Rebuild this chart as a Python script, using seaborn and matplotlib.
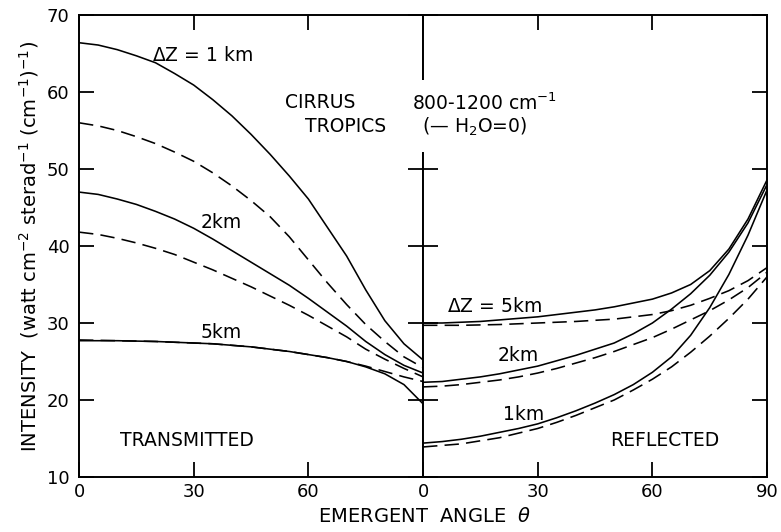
import matplotlib
matplotlib.use("Agg")
import matplotlib.pyplot as plt
from matplotlib.patches import Rectangle
import seaborn as sns

# emergent angle (deg) at which values were read
theta = [0, 5, 10, 15, 20, 25, 30, 35, 40, 45, 50, 55, 60, 65, 70, 75, 80, 85, 90]

# transmitted intensity, left panel (solid: H2O=0, dashed: with water vapour)
trans_1km = [66.4, 66.1, 65.5, 64.7, 63.8, 62.4, 60.9, 59.0, 56.9, 54.5, 51.9, 49.1, 46.1,
             42.4, 38.7, 34.3, 30.3, 27.3, 25.2]
trans_1km_dry = [56.0, 55.6, 55.0, 54.2, 53.3, 52.2, 51.0, 49.5, 47.8, 45.9, 43.8, 41.2, 38.2,
                 35.2, 32.4, 29.8, 27.6, 25.6, 24.2]
trans_2km = [47.0, 46.7, 46.1, 45.4, 44.5, 43.5, 42.3, 40.9, 39.4, 37.9, 36.4, 34.9, 33.2,
             31.4, 29.6, 27.6, 25.9, 24.5, 23.5]
trans_2km_dry = [41.8, 41.5, 41.0, 40.4, 39.7, 38.9, 37.9, 36.9, 35.8, 34.7, 33.5, 32.3, 31.0,
                 29.6, 28.2, 26.6, 25.3, 24.1, 23.0]
trans_5km = [27.7, 27.7, 27.7, 27.65, 27.6, 27.5, 27.4, 27.3, 27.1, 26.9, 26.6, 26.3, 25.9,
             25.5, 25.0, 24.3, 23.4, 22.0, 19.5]
trans_5km_dry = [27.8, 27.75, 27.7, 27.65, 27.6, 27.5, 27.4, 27.3, 27.1, 26.9, 26.6, 26.3, 25.9,
                 25.5, 25.0, 24.4, 23.7, 23.0, 22.4]

# reflected intensity, right panel
refl_1km = [14.4, 14.6, 14.9, 15.3, 15.8, 16.3, 16.9, 17.7, 18.6, 19.6, 20.7, 22.0, 23.6,
            25.6, 28.4, 32.0, 36.3, 41.4, 47.3]
refl_1km_dry = [13.9, 14.1, 14.3, 14.7, 15.1, 15.7, 16.3, 17.1, 18.0, 19.0, 20.0, 21.3, 22.7,
                24.3, 26.2, 28.3, 30.6, 33.1, 36.0]
refl_2km = [22.3, 22.4, 22.7, 23.0, 23.4, 23.9, 24.4, 25.1, 25.8, 26.6, 27.4, 28.6, 30.0,
            31.8, 33.8, 36.2, 39.2, 43.0, 48.0]
refl_2km_dry = [21.7, 21.8, 22.0, 22.3, 22.6, 23.0, 23.5, 24.1, 24.8, 25.5, 26.3, 27.2, 28.1,
                29.2, 30.4, 31.6, 33.0, 34.6, 36.6]
refl_5km = [30.0, 30.0, 30.1, 30.2, 30.4, 30.6, 30.8, 31.1, 31.4, 31.7, 32.1, 32.6, 33.1,
            33.9, 35.0, 36.8, 39.6, 43.5, 48.6]
refl_5km_dry = [29.7, 29.7, 29.7, 29.75, 29.8, 29.9, 30.0, 30.1, 30.2, 30.35, 30.5, 30.8, 31.1,
                31.6, 32.3, 33.2, 34.2, 35.5, 37.2]

sns.set_theme(style="white")
plt.rcParams["font.family"] = ["DejaVu Sans"]
plt.rcParams["mathtext.fontset"] = "dejavusans"
plt.rcParams["text.color"] = "black"
plt.rcParams["axes.labelcolor"] = "black"

fig = plt.figure(figsize=(7.81, 5.32), dpi=100)
ax1 = fig.add_axes([0.1012, 0.1034, 0.4405, 0.8684])
ax2 = fig.add_axes([0.5417, 0.1034, 0.4405, 0.8684], sharey=ax1)

solid = "-"
dash = (0, (9, 4.5))
lw = 1.15

for vals, ls in [(trans_1km, solid), (trans_1km_dry, dash), (trans_2km, solid),
                 (trans_2km_dry, dash), (trans_5km, solid), (trans_5km_dry, dash)]:
    sns.lineplot(x=theta, y=vals, ax=ax1, color="black", linewidth=lw, linestyle=ls)

for vals, ls in [(refl_1km, solid), (refl_1km_dry, dash), (refl_2km, solid),
                 (refl_2km_dry, dash), (refl_5km, solid), (refl_5km_dry, dash)]:
    sns.lineplot(x=theta, y=vals, ax=ax2, color="black", linewidth=lw, linestyle=ls)

for ax in (ax1, ax2):
    ax.set_xlim(0, 90)
    ax.set_ylim(10, 70)
    for sp in ax.spines.values():
        sp.set_linewidth(1.4)
        sp.set_color("black")
    ax.tick_params(axis="both", direction="in", length=11, width=1.3,
                   colors="black", labelsize=13, top=True, bottom=True,
                   left=True, right=True)
    ax.tick_params(axis="x", pad=4)
    ax.tick_params(axis="y", pad=7)
    ax.set_xlabel("")
    ax.set_ylabel("")

ax1.set_xticks([0, 30, 60])
ax2.set_xticks([0, 30, 60, 90])
ax1.set_yticks([10, 20, 30, 40, 50, 60, 70])
ax2.tick_params(axis="y", labelleft=False)

ax1.set_ylabel("INTENSITY  (watt cm$^{-2}$ sterad$^{-1}$ (cm$^{-1}$)$^{-1}$)",
               fontsize=14, labelpad=4)
fig.text(425 / 781, 1 - 517 / 532, "EMERGENT  ANGLE  $\\theta$",
         ha="center", va="center", fontsize=14)

ts = 13.5
ax1.text(19.1, 64.8, "$\\Delta$Z = 1 km", fontsize=ts, va="center")
ax1.text(31.7, 43.0, "2km", fontsize=ts, va="center")
ax1.text(31.7, 28.8, "5km", fontsize=ts, va="center")
ax1.text(10.7, 14.7, "TRANSMITTED", fontsize=ts, va="center")
ax1.text(53.9, 58.6, "CIRRUS", fontsize=ts, va="center")
ax1.text(59.1, 55.5, "TROPICS", fontsize=ts, va="center")

# gap in the divider behind the spectral-band note
ax2.add_patch(Rectangle((-4.4, 52.2), 8.8, 9.4, facecolor="white", edgecolor="none",
                        clip_on=False, zorder=4))
ax2.text(-2.9, 58.6, "800-1200 cm$^{-1}$", fontsize=ts, va="center", zorder=5)
ax2.text(-0.3, 55.5, "(\u2014 H$_2$O=0)", fontsize=ts, va="center", zorder=5)
ax2.text(6.3, 32.1, "$\\Delta$Z = 5km", fontsize=ts, va="center")
ax2.text(19.6, 25.8, "2km", fontsize=ts, va="center")
ax2.text(20.9, 18.1, "1km", fontsize=ts, va="center")
ax2.text(48.9, 14.8, "REFLECTED", fontsize=ts, va="center")

fig.savefig("out.png", dpi=100)
